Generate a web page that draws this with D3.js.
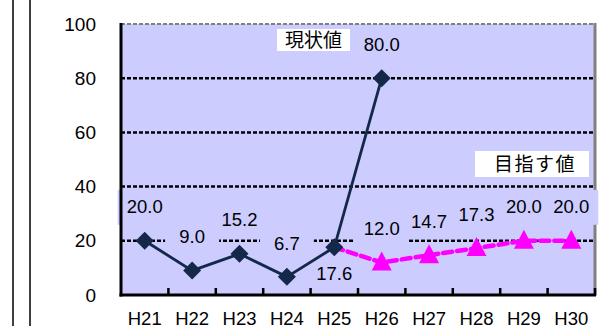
<!DOCTYPE html>
<html><head><meta charset="utf-8">
<script src="https://cdn.jsdelivr.net/npm/d3@7"></script>
<style>body{margin:0;background:#fff}svg{display:block}</style>
</head><body>
<script>
const categories = ["H21","H22","H23","H24","H25","H26","H27","H28","H29","H30"];
const actualValues = [20.0, 9.0, 15.2, 6.7, 17.6, 80.0, null, null, null, null];
const targetValues = [null, null, null, null, 17.6, 12.0, 14.7, 17.3, 20.0, 20.0];
const targetLabeled = [false, false, false, false, false, true, true, true, true, true];
const actualLabelBelow = [false, false, false, false, true, false, false, false, false, false];
const yTicks = [0, 20, 40, 60, 80, 100];
const actualName = "現状値";
const targetName = "目指す値";

const W = 605, H = 326;
const svg = d3.select("body").append("svg").attr("width", W).attr("height", H);
const font = "'Liberation Sans', Arial, sans-serif";

const x = d3.scaleBand().domain(categories).range([121, 595]);
const y = d3.scaleLinear().domain([0, 100]).range([295, 24]);
const cx = c => x(c) + x.bandwidth() / 2;

// outer frame lines
[13, 30].forEach(xx => svg.append("line").attr("x1", xx).attr("x2", xx).attr("y1", 0).attr("y2", H)
  .attr("stroke", "#000").attr("stroke-width", 1.5));

// plot area
svg.append("rect").attr("x", 121).attr("y", 24).attr("width", 474).attr("height", 271).attr("fill", "#ccccff");

// gridlines
svg.append("g").selectAll("line").data(yTicks.filter(t => t > 0 && t < 100)).join("line")
  .attr("x1", 121).attr("x2", 595).attr("y1", d => y(d)).attr("y2", d => y(d))
  .attr("stroke", "#000").attr("stroke-width", 2.5).attr("stroke-dasharray", "4,2");
// top border
svg.append("line").attr("x1", 121).attr("x2", 595).attr("y1", y(100)).attr("y2", y(100))
  .attr("stroke", "#808080").attr("stroke-width", 2).attr("stroke-dasharray", "4,2");
// right border
svg.append("line").attr("x1", 595).attr("x2", 595).attr("y1", 23).attr("y2", 296)
  .attr("stroke", "#808080").attr("stroke-width", 3);

// data labels (boxes under the lines)
const idx = categories.map((c, i) => i);
const labels = [];
idx.forEach(i => {
  if (actualValues[i] != null) labels.push({ c: categories[i], v: actualValues[i], dy: actualLabelBelow[i] ? 26 : -34 });
  if (targetValues[i] != null && targetLabeled[i]) labels.push({ c: categories[i], v: targetValues[i], dy: -34 });
});
svg.append("g").selectAll("rect").data(labels).join("rect")
  .attr("x", d => cx(d.c) - 27).attr("y", d => y(d.v) + d.dy - 17)
  .attr("width", 54).attr("height", 35).attr("fill", "#ccccff");

// lines
const line = arr => d3.line().defined(i => arr[i] != null).x(i => cx(categories[i])).y(i => y(arr[i]));
svg.append("path").datum(idx).attr("d", line(actualValues)).attr("fill", "none")
  .attr("stroke", "#14284a").attr("stroke-width", 2.8);
svg.append("path").datum(idx).attr("d", line(targetValues)).attr("fill", "none")
  .attr("stroke", "#ff00ff").attr("stroke-width", 4.5).attr("stroke-dasharray", "9,5")
  .attr("stroke-linecap", "round");

// markers
svg.append("g").selectAll("path").data(idx.filter(i => targetValues[i] != null && targetLabeled[i])).join("path")
  .attr("d", "M0,-11L10,8L-10,8Z")
  .attr("transform", i => `translate(${cx(categories[i])},${y(targetValues[i])})`)
  .attr("fill", "#ff00ff");
svg.append("g").selectAll("path").data(idx.filter(i => actualValues[i] != null)).join("path")
  .attr("d", "M0,-9L9,0L0,9L-9,0Z")
  .attr("transform", i => `translate(${cx(categories[i])},${y(actualValues[i])})`)
  .attr("fill", "#14284a");

// label texts
svg.append("g").selectAll("text").data(labels).join("text")
  .attr("x", d => cx(d.c)).attr("y", d => y(d.v) + d.dy)
  .text(d => d.v.toFixed(1)).attr("text-anchor", "middle").attr("dy", "0.36em")
  .attr("font-family", font).attr("font-size", 18.5).attr("fill", "#000");

// axes lines
svg.append("line").attr("x1", 121).attr("x2", 121).attr("y1", 23).attr("y2", 296.5)
  .attr("stroke", "#000").attr("stroke-width", 3);
svg.append("line").attr("x1", 119.5).attr("x2", 596).attr("y1", 295).attr("y2", 295)
  .attr("stroke", "#000").attr("stroke-width", 3);
// category boundary ticks
svg.append("g").selectAll("line").data(categories).join("line")
  .attr("x1", (d, i) => 121 + x.step() * (i + 1)).attr("x2", (d, i) => 121 + x.step() * (i + 1))
  .attr("y1", 295).attr("y2", 288).attr("stroke", "#000").attr("stroke-width", 2.5);

// y axis labels
const ya = svg.append("g").attr("transform", "translate(121,0)")
  .call(d3.axisLeft(y).tickValues(yTicks).tickSize(0).tickPadding(25).tickFormat(d3.format("d")));
ya.select(".domain").remove();
ya.selectAll("text").attr("font-family", font).attr("font-size", 19).attr("fill", "#000");

// x axis labels
const xa = svg.append("g").attr("transform", "translate(0,295)")
  .call(d3.axisBottom(x).tickSize(0).tickPadding(17));
xa.select(".domain").remove();
xa.selectAll("text").attr("font-family", font).attr("font-size", 18.5).attr("fill", "#000");

// series name boxes
const jp = "'Noto Sans CJK JP', sans-serif";
svg.append("rect").attr("x", 277).attr("y", 29).attr("width", 73).attr("height", 22).attr("fill", "#fff");
svg.append("text").attr("x", 313.5).attr("y", 40).attr("dy", "0.35em").attr("text-anchor", "middle")
  .attr("font-family", jp).attr("font-size", 19).text(actualName);
svg.append("rect").attr("x", 475).attr("y", 151).attr("width", 114).attr("height", 26).attr("fill", "#fff");
svg.append("text").attr("x", 535).attr("y", 164).attr("dy", "0.35em").attr("text-anchor", "middle")
  .attr("font-family", jp).attr("font-size", 19).attr("letter-spacing", 1.5).text(targetName);
</script>
</body></html>
